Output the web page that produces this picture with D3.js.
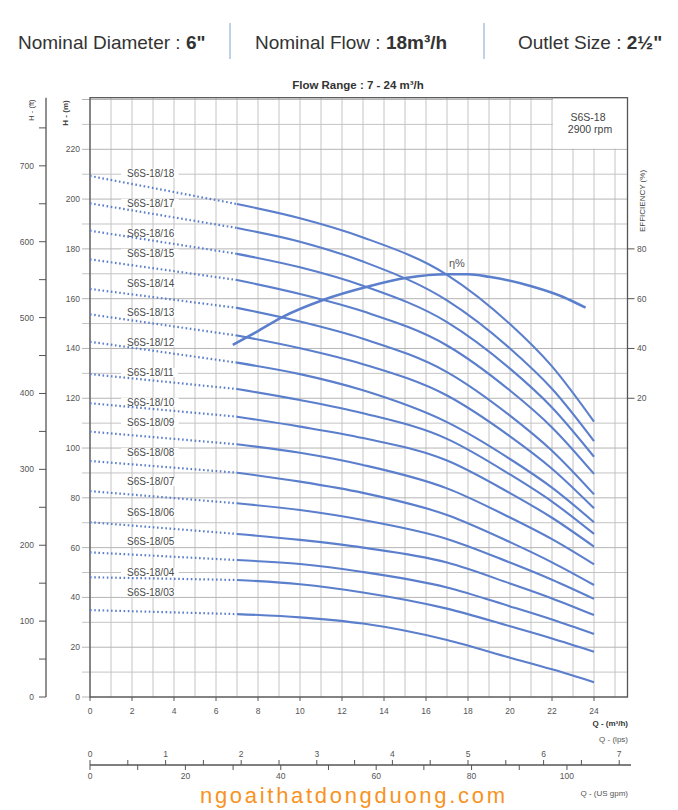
<!DOCTYPE html>
<html>
<head>
<meta charset="utf-8">
<script src="https://cdn.jsdelivr.net/npm/d3@7"></script>
<style>
  html, body { margin: 0; padding: 0; background: #fff; }
  svg { display: block; font-family: "Liberation Sans", Arial, sans-serif; }
</style>
</head>
<body>
<script>
// ---------------- DATA ----------------
const flowQ = [0, 7, 10, 13, 17, 20, 22, 24];          // m³/h
const models = ["S6S-18/18","S6S-18/17","S6S-18/16","S6S-18/15","S6S-18/14","S6S-18/13",
                "S6S-18/12","S6S-18/11","S6S-18/10","S6S-18/09","S6S-18/08","S6S-18/07",
                "S6S-18/06","S6S-18/05","S6S-18/04","S6S-18/03"];
const head18 = [209.3, 198.0, 192.3, 184.6, 169.6, 149.8, 132.8, 110.6];
const head17 = [198.3, 188.4, 182.9, 174.9, 159.3, 140.0, 123.8, 102.8];
const head16 = [187.3, 178.0, 172.6, 165.2, 150.6, 131.9, 116.3, 96.5];
const head15 = [175.8, 167.5, 161.9, 154.9, 141.2, 123.1, 108.3, 89.6];
const head14 = [163.9, 156.3, 150.8, 143.9, 130.5, 113.0, 98.9, 81.4];
const head13 = [153.7, 145.2, 140.1, 133.7, 121.1, 104.7, 91.7, 75.8];
const head12 = [142.7, 134.3, 129.7, 123.2, 110.4, 95.6, 84.1, 70.2];
const head11 = [129.7, 123.7, 119.3, 114.0, 103.7, 89.4, 78.5, 65.5];
const head10 = [118.0, 112.6, 108.6, 104.0, 95.0, 81.9, 72.0, 60.4];
const head09 = [106.6, 101.5, 98.1, 93.2, 83.8, 72.1, 63.4, 53.3];
const head08 = [94.8, 90.1, 86.5, 82.0, 73.1, 62.2, 54.1, 45.0];
const head07 = [82.7, 77.8, 75.1, 71.1, 63.5, 54.0, 47.1, 39.4];
const head06 = [70.2, 65.5, 63.1, 60.0, 54.0, 45.6, 39.6, 32.9];
const head05 = [58.1, 55.0, 53.4, 50.2, 44.0, 36.4, 31.1, 25.3];
const head04 = [48.1, 47.0, 45.3, 42.0, 35.5, 28.4, 23.5, 18.2];
const head03 = [34.9, 33.3, 32.0, 29.5, 22.9, 15.8, 11.1, 5.9];
const heads = [head18, head17, head16, head15, head14, head13, head12, head11,
               head10, head09, head08, head07, head06, head05, head04, head03];
// label anchors (head in m at which each model label sits)
const labelH = [210.4, 198.3, 186.2, 178.2, 166.2, 154.3, 142.4, 130.4,
                118.4, 110.2, 98.2, 86.5, 74.0, 62.3, 50.0, 42.1];

const effQ   = [6.8, 8, 9.2, 11.1, 13.2, 15.1, 17, 18, 19, 21.1, 22.5, 23.6];
const effPct = [41.4, 47.0, 52.8, 59.5, 64.8, 68.4, 69.8, 69.8, 68.8, 64.8, 60.8, 56.4];

const qTicks   = [0, 2, 4, 6, 8, 10, 12, 14, 16, 18, 20, 22, 24];
const hTicks   = [0, 20, 40, 60, 80, 100, 120, 140, 160, 180, 200, 220];
const ftTicks  = [0, 100, 200, 300, 400, 500, 600, 700];
const effTicks = [20, 40, 60, 80];
const lpsTicks = [0, 1, 2, 3, 4, 5, 6, 7];
const gpmTicks = [0, 20, 40, 60, 80, 100];

// ---------------- LAYOUT ----------------
const W = 678, H = 810;
const pL = 90, pR = 627.5, pB = 697, pT = 97.7;
const blue = "#5b7fcc", gridCol = "#c4c4c4", frameCol = "#555", txt = "#555";

const svg = d3.select("body").append("svg").attr("width", W).attr("height", H);

const x = d3.scaleLinear().domain([0, 24]).range([pL, 594]);
const y = d3.scaleLinear().domain([0, 220]).range([pB, 149.3]);
const yFt = d3.scaleLinear().domain([0, 220 / 0.3048]).range([pB, 149.3]);
const yEff = d3.scaleLinear().domain([0, 80]).range([y(100), y(180)]);
const xLps = d3.scaleLinear().domain([0, 24 / 3.6]).range([pL, 594]);
const xGpm = d3.scaleLinear().domain([0, 24 * 4.4029]).range([pL, 594]);

// ---------------- HEADER ----------------
const header = svg.append("g").attr("font-size", 19).attr("fill", "#333");
function headerItem(x0, a, b) {
  const t = header.append("text").attr("x", x0).attr("y", 49);
  t.append("tspan").text(a);
  t.append("tspan").attr("font-weight", "bold").text(b);
}
headerItem(18, "Nominal Diameter : ", "6\"");
headerItem(255, "Nominal Flow : ", "18m³/h");
headerItem(518, "Outlet Size : ", "2½\"");
[230, 484].forEach(sx => svg.append("line").attr("x1", sx).attr("x2", sx)
  .attr("y1", 23).attr("y2", 59).attr("stroke", "#a9c3df").attr("stroke-width", 1.5));

// title
svg.append("text").attr("x", 358).attr("y", 89).attr("text-anchor", "middle")
  .attr("font-size", 11.5).attr("font-weight", "bold").attr("fill", "#333")
  .text("Flow Range : 7 - 24 m³/h");

// ---------------- GRID ----------------
const gg = svg.append("g");
d3.range(0, 26).forEach(q => {
  gg.append("line").attr("x1", x(q)).attr("x2", x(q)).attr("y1", pT).attr("y2", pB)
    .attr("stroke", gridCol).attr("stroke-width", 1);
});
d3.range(0, 250, 10).forEach(h => {
  gg.append("line").attr("x1", 82).attr("x2", pR).attr("y1", y(h)).attr("y2", y(h))
    .attr("stroke", h % 20 === 0 ? "#b5b5b5" : gridCol).attr("stroke-width", 1);
});
// top-right info box
svg.append("rect").attr("x", 553).attr("y", pT).attr("width", pR - 553).attr("height", 148.6 - pT)
  .attr("fill", "#fff");
svg.append("text").attr("x", 588).attr("y", 121).attr("text-anchor", "middle")
  .attr("font-size", 10.5).attr("fill", "#444").text("S6S-18");
svg.append("text").attr("x", 590).attr("y", 133).attr("text-anchor", "middle")
  .attr("font-size", 10.5).attr("fill", "#444").text("2900 rpm");

// frame
svg.append("rect").attr("x", pL).attr("y", pT).attr("width", pR - pL).attr("height", pB - pT)
  .attr("fill", "none").attr("stroke", frameCol).attr("stroke-width", 1.3);

// ---------------- AXES ----------------
hTicks.forEach(h => {
  svg.append("text").attr("x", 80).attr("y", y(h) + 3).attr("text-anchor", "end")
    .attr("font-size", 8.5).attr("fill", txt).text(h);
});
svg.append("text").attr("transform", "translate(68,113) rotate(-90)").attr("text-anchor", "middle")
  .attr("font-size", 8).attr("font-weight", "bold").attr("fill", "#444").text("H - (m)");
// feet axis
svg.append("line").attr("x1", 46).attr("x2", 46).attr("y1", pT).attr("y2", pB)
  .attr("stroke", frameCol).attr("stroke-width", 1.3);
d3.range(0, 800, 50).forEach(f => {
  svg.append("line").attr("x1", 39).attr("x2", 46).attr("y1", yFt(f)).attr("y2", yFt(f))
    .attr("stroke", frameCol).attr("stroke-width", 1);
});
ftTicks.forEach(f => {
  svg.append("text").attr("x", 34).attr("y", yFt(f) + 3).attr("text-anchor", "end")
    .attr("font-size", 8.5).attr("fill", txt).text(f);
});
svg.append("text").attr("transform", "translate(34,110) rotate(-90)").attr("text-anchor", "middle")
  .attr("font-size", 7.5).attr("fill", "#444").text("H - (ft)");

// efficiency axis
effTicks.forEach(e => {
  svg.append("line").attr("x1", pR).attr("x2", pR + 7).attr("y1", yEff(e)).attr("y2", yEff(e))
    .attr("stroke", frameCol).attr("stroke-width", 1);
  svg.append("text").attr("x", 637).attr("y", yEff(e) + 3).attr("font-size", 8.5)
    .attr("fill", txt).text(e);
});
svg.append("text").attr("transform", "translate(645,201) rotate(-90)").attr("text-anchor", "middle")
  .attr("font-size", 8).attr("fill", "#444").text("EFFICIENCY (%)");

// bottom Q m3/h
qTicks.forEach(q => {
  svg.append("line").attr("x1", x(q)).attr("x2", x(q)).attr("y1", pB).attr("y2", pB + 4)
    .attr("stroke", frameCol).attr("stroke-width", 1);
  svg.append("text").attr("x", x(q)).attr("y", 714).attr("text-anchor", "middle")
    .attr("font-size", 8.5).attr("fill", txt).text(q);
});
svg.append("text").attr("x", 628).attr("y", 726).attr("text-anchor", "end")
  .attr("font-size", 8).attr("font-weight", "bold").attr("fill", "#333").text("Q - (m³/h)");
svg.append("text").attr("x", 628).attr("y", 742).attr("text-anchor", "end")
  .attr("font-size", 8).attr("fill", txt).text("Q - (lps)");

// lps / gpm axis
const ay = 765;
svg.append("line").attr("x1", pL).attr("x2", 631).attr("y1", ay).attr("y2", ay)
  .attr("stroke", frameCol).attr("stroke-width", 1.3);
d3.range(0, 7.01, 0.5).forEach(l => {
  svg.append("line").attr("x1", xLps(l)).attr("x2", xLps(l)).attr("y1", ay - 5).attr("y2", ay)
    .attr("stroke", frameCol).attr("stroke-width", 1);
});
d3.range(0, 110, 10).forEach(v => {
  svg.append("line").attr("x1", xGpm(v)).attr("x2", xGpm(v)).attr("y1", ay).attr("y2", ay + 5)
    .attr("stroke", frameCol).attr("stroke-width", 1);
});
lpsTicks.forEach(l => {
  svg.append("text").attr("x", xLps(l)).attr("y", 757).attr("text-anchor", "middle")
    .attr("font-size", 8.5).attr("fill", txt).text(l);
});
gpmTicks.forEach(v => {
  svg.append("text").attr("x", xGpm(v)).attr("y", 779).attr("text-anchor", "middle")
    .attr("font-size", 8.5).attr("fill", txt).text(v);
});
svg.append("text").attr("x", 628).attr("y", 796).attr("text-anchor", "end")
  .attr("font-size", 8).attr("fill", txt).text("Q - (US gpm)");

// ---------------- MODEL LABELS ----------------
const labG = svg.append("g");
models.forEach((m, i) => {
  const t = labG.append("text").attr("x", 127).attr("y", y(labelH[i]) + 3.5)
    .attr("font-size", 10).attr("fill", "#4a4a4a").text(m);
  const bb = t.node().getBBox();
  labG.insert("rect", "text").attr("x", bb.x - 6).attr("y", bb.y + 1)
    .attr("width", bb.width + 10).attr("height", bb.height - 2).attr("fill", "#fff");
});

// ---------------- CURVES ----------------
const solid = d3.line().x(d => x(d[0])).y(d => y(d[1])).curve(d3.curveMonotoneX);
const straight = d3.line().x(d => x(d[0])).y(d => y(d[1]));
const cg = svg.append("g");
heads.forEach(hs => {
  const pts = flowQ.map((q, i) => [q, hs[i]]);
  cg.append("path").attr("d", straight(pts.slice(0, 2)))
    .attr("fill", "none").attr("stroke", blue).attr("stroke-width", 2.2)
    .attr("stroke-dasharray", "1.6,2.6");
  cg.append("path").attr("d", solid(pts.slice(1)))
    .attr("fill", "none").attr("stroke", blue).attr("stroke-width", 2.1);
});

// efficiency curve
const effLine = d3.line().x(d => x(d[0])).y(d => yEff(d[1])).curve(d3.curveMonotoneX);
cg.append("path").attr("d", effLine(effQ.map((q, i) => [q, effPct[i]])))
  .attr("fill", "none").attr("stroke", blue).attr("stroke-width", 2.6);
svg.append("text").attr("x", 449).attr("y", 267).attr("font-size", 11).attr("fill", "#555").text("η%");

// ---------------- WATERMARK ----------------
svg.append("text").attr("x", 200).attr("y", 803).attr("font-size", 22)
  .attr("font-family", "'Liberation Sans', Arial, sans-serif")
  .attr("textLength", 305).attr("lengthAdjust", "spacing")
  .attr("fill", "#f7931e")
  .text("ngoaithatdongduong.com");
</script>
</body>
</html>
